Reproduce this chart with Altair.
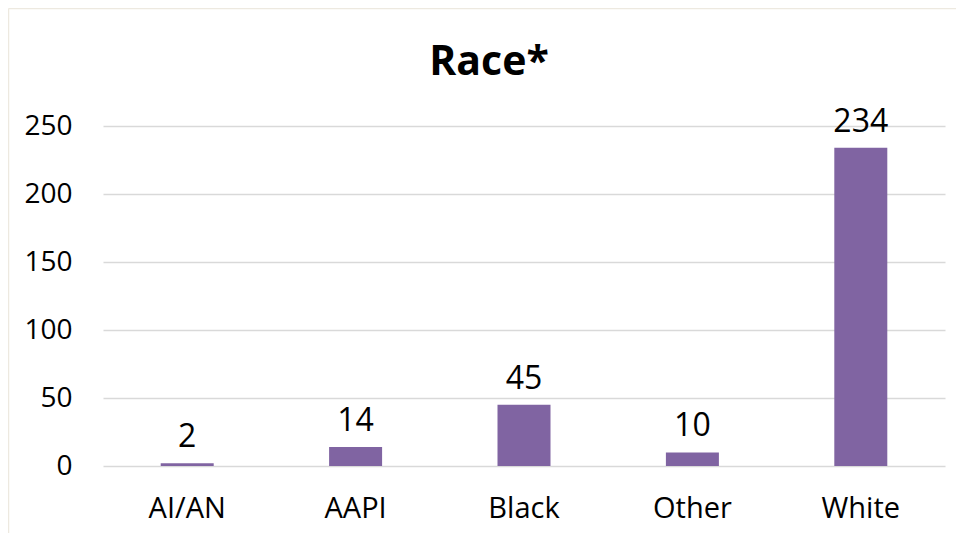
import altair as alt
import pandas as pd

categories = ["AI/AN", "AAPI", "Black", "Other", "White"]
values = [2, 14, 45, 10, 234]
y_ticks = [0, 50, 100, 150, 200, 250]
title_text = "Race*"

df = pd.DataFrame({"cat": categories, "val": values})

W, H = 842, 340
FONT = "Open Sans"
BAR = "#8064A2"

x_enc = alt.X("cat:N", sort=categories, title=None,
              scale=alt.Scale(paddingInner=0, paddingOuter=0),
              axis=alt.Axis(labelAngle=0, labelFontSize=29, labelFont=FONT,
                            labelColor="#000000", ticks=False, tickSize=0,
                            domain=False, grid=False, labelPadding=28))
y_enc = alt.Y("val:Q", title=None,
              scale=alt.Scale(domain=[0, 250], nice=False),
              axis=alt.Axis(values=y_ticks, labelFontSize=28, labelFont=FONT,
                            labelColor="#000000", ticks=False, tickSize=0,
                            domain=False, labelPadding=31,
                            gridColor="#D9D9D9", gridWidth=1.3))

base = alt.Chart(df)
bars = base.mark_bar(size=53, color=BAR).encode(x=x_enc, y=y_enc)
labels = base.mark_text(fontSize=32, font=FONT, color="#000000",
                        baseline="alphabetic", dy=-16).encode(
    x=alt.X("cat:N", sort=categories), y="val:Q", text="val:Q")

title = alt.Chart(pd.DataFrame({"t": [title_text]})).mark_text(
    fontSize=41, font=FONT, fontWeight="bold", color="#000000",
    baseline="alphabetic", align="center").encode(
    text="t:N", x=alt.value(386), y=alt.value(-51))

border_top = alt.Chart(pd.DataFrame({"a": [0]})).mark_rule(
    color="#EDE9E0", strokeWidth=1.5).encode(
    x=alt.value(-94.5), x2=alt.value(W + 11), y=alt.value(-117.5))
border_left = alt.Chart(pd.DataFrame({"a": [0]})).mark_rule(
    color="#EDE9E0", strokeWidth=1.5).encode(
    x=alt.value(-94.5), y=alt.value(-117.5), y2=alt.value(H + 67))

chart = alt.layer(border_top, border_left, bars, labels, title).properties(
    width=W, height=H,
    background="white",
    autosize=alt.AutoSizeParams(type="none"),
    padding={"left": 95, "top": 118, "right": 11, "bottom": 67},
).configure_view(stroke="transparent", strokeWidth=0)

chart.save("out.html", embed_options={"renderer": "svg", "actions": False})
